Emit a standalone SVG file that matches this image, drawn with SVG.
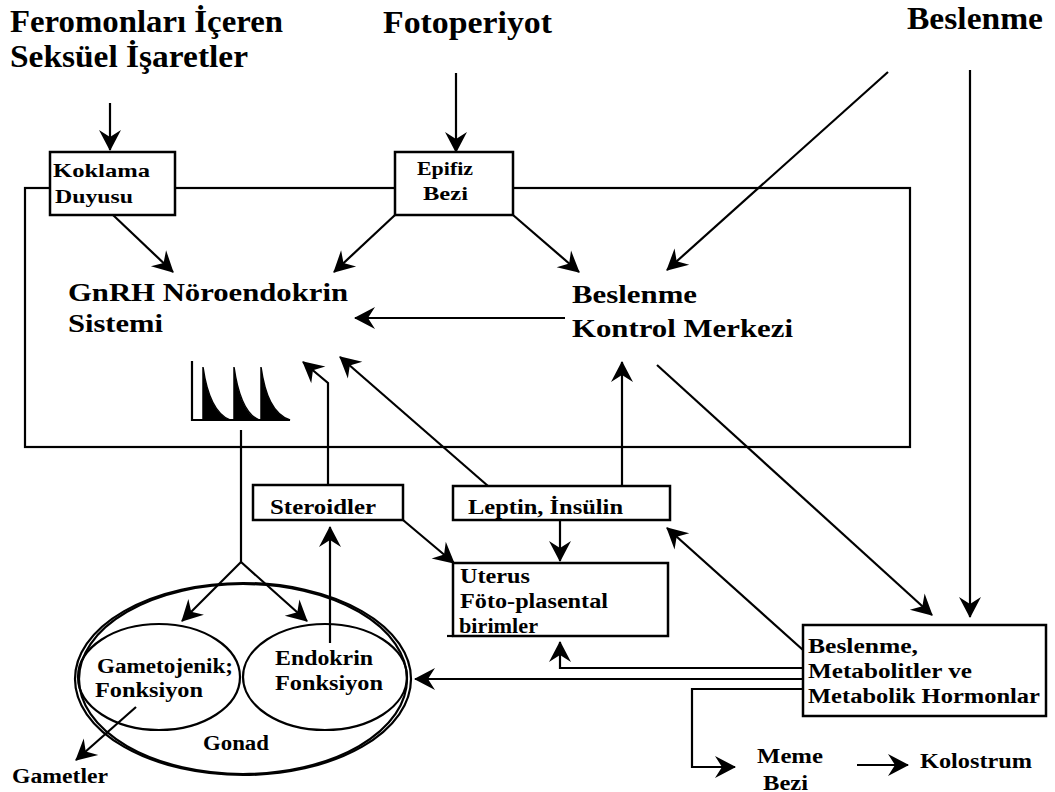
<svg xmlns="http://www.w3.org/2000/svg" width="1055" height="792" viewBox="0 0 1055 792">
<style>
text{font-family:"Liberation Serif","Times New Roman",serif;font-weight:bold;fill:#000}
.t{font-size:32px}
.m{font-size:26px}
.s{font-size:20px}
.k{font-size:19px}
.box{fill:#fff;stroke:#000;stroke-width:2.5}
.ln{fill:none;stroke:#000;stroke-width:2.2}
.ar{fill:none;stroke:#000;stroke-width:2.2;marker-end:url(#ah)}
.el{fill:none;stroke:#000;stroke-width:2.2}
</style>
<defs>
<marker id="ah" viewBox="-22 -13 24 26" refX="0" refY="0" markerWidth="24" markerHeight="26" markerUnits="userSpaceOnUse" orient="auto">
<path d="M1,0 L-20,-11 L-13,0 L-20,11 Z" fill="#000"/>
</marker>
</defs>
<rect width="1055" height="792" fill="#fff"/>

<g id="titles">
<text class="t" x="10" y="32" textLength="273" lengthAdjust="spacingAndGlyphs">Feromonları İçeren</text>
<text class="t" x="10" y="67" textLength="238" lengthAdjust="spacingAndGlyphs">Seksüel İşaretler</text>
<text class="t" x="383" y="33" textLength="169" lengthAdjust="spacingAndGlyphs">Fotoperiyot</text>
<text class="t" x="907" y="29" textLength="136" lengthAdjust="spacingAndGlyphs">Beslenme</text>
</g>

<g id="frame">
<rect x="25" y="188" width="885" height="259" class="ln" stroke-width="2.5"/>
</g>

<g id="connectors">
<path class="ar" d="M110,103 L110,150"/>
<path class="ar" d="M456,73 L456,152"/>
<path class="ar" d="M888,72 L667,270"/>
<path class="ar" d="M970,70 L970,617"/>
<path class="ar" d="M113,215 L173,272"/>
<path class="ar" d="M395,215 L334,272"/>
<path class="ar" d="M513,215 L579,272"/>
<path class="ar" d="M565,318 L355,318"/>
<path class="ar" d="M657,365 L932,615"/>
<path class="ln" d="M241,430 L241,562"/>
<path class="ar" d="M241,562 L182,621"/>
<path class="ar" d="M241,562 L307,621"/>
<path class="ar" d="M330,643 L330,527"/>
<path class="ar" d="M328,485 L328,383 L303,362"/>
<path class="ar" d="M488,486 L340,357"/>
<path class="ar" d="M622,486 L622,362"/>
<path class="ar" d="M560,520 L560,561"/>
<path class="ar" d="M403,520 L454,563"/>
<path class="ar" d="M803,650 L667,528"/>
<path class="ar" d="M804,668 L560,668 L560,642"/>
<path class="ar" d="M804,679 L415,679"/>
<path class="ar" d="M804,689 L692,689 L692,767 L735,767"/>
<path class="ar" d="M857,765 L908,765"/>
<path class="ar" d="M136,707 L76,760"/>
</g>

<g id="koklama">
<rect class="box" x="50" y="152" width="125" height="63"/>
<text class="k" x="53" y="177" textLength="97" lengthAdjust="spacingAndGlyphs">Koklama</text>
<text class="k" x="55" y="203" textLength="78" lengthAdjust="spacingAndGlyphs">Duyusu</text>
</g>

<g id="epifiz">
<rect class="box" x="395" y="152" width="118" height="63"/>
<text class="k" x="417" y="175" textLength="56" lengthAdjust="spacingAndGlyphs">Epifiz</text>
<text class="k" x="423" y="200" textLength="45" lengthAdjust="spacingAndGlyphs">Bezi</text>
</g>

<g id="gnrh">
<text class="m" x="68" y="301" textLength="280" lengthAdjust="spacingAndGlyphs">GnRH Nöroendokrin</text>
<text class="m" x="68" y="332" textLength="95" lengthAdjust="spacingAndGlyphs">Sistemi</text>
</g>

<g id="pulse">
<path class="ln" d="M192,361 L192,420 L290,420"/>
<path d="M203,420 L203,367 C207,395 215,414 230,420 Z" fill="#000" stroke="#000" stroke-width="1.5"/>
<path d="M234,420 L234,367 C238,395 245,414 259,420 Z" fill="#000" stroke="#000" stroke-width="1.5"/>
<path d="M261,420 L261,367 C265,395 273,414 290,420 Z" fill="#000" stroke="#000" stroke-width="1.5"/>
</g>

<g id="bkm">
<text class="m" x="572" y="303" textLength="125" lengthAdjust="spacingAndGlyphs">Beslenme</text>
<text class="m" x="572" y="337" textLength="221" lengthAdjust="spacingAndGlyphs">Kontrol Merkezi</text>
</g>

<g id="steroidler">
<rect class="box" x="253" y="485" width="150" height="35"/>
<text class="s" x="270" y="514" textLength="106" lengthAdjust="spacingAndGlyphs">Steroidler</text>
</g>

<g id="leptin">
<rect class="box" x="453" y="486" width="217" height="34"/>
<text class="s" x="468" y="514" textLength="155" lengthAdjust="spacingAndGlyphs">Leptin, İnsülin</text>
</g>

<g id="uterus">
<rect class="box" x="453" y="563" width="215" height="73" stroke-width="2"/>
<path class="ln" d="M447,636 L453,636"/>
<text class="s" x="460" y="583" textLength="70" lengthAdjust="spacingAndGlyphs">Uterus</text>
<text class="s" x="460" y="608" textLength="148" lengthAdjust="spacingAndGlyphs">Föto-plasental</text>
<text class="s" x="459" y="633" textLength="79" lengthAdjust="spacingAndGlyphs">birimler</text>
</g>

<g id="gonad">
<ellipse class="el" cx="243" cy="679" rx="168" ry="96"/>
<ellipse class="el" cx="243" cy="679" rx="164" ry="95"/>
<ellipse class="el" cx="159" cy="677" rx="81" ry="53"/>
<ellipse class="el" cx="325" cy="677" rx="82" ry="53"/>
<text class="s" x="97" y="673" textLength="136" lengthAdjust="spacingAndGlyphs">Gametojenik;</text>
<text class="s" x="95" y="697" textLength="108" lengthAdjust="spacingAndGlyphs">Fonksiyon</text>
<text class="s" x="275" y="665" textLength="98" lengthAdjust="spacingAndGlyphs">Endokrin</text>
<text class="s" x="275" y="690" textLength="108" lengthAdjust="spacingAndGlyphs">Fonksiyon</text>
<text class="s" x="203" y="750" textLength="66" lengthAdjust="spacingAndGlyphs">Gonad</text>
</g>

<g id="gametler">
<text class="s" x="12" y="783" textLength="96" lengthAdjust="spacingAndGlyphs">Gametler</text>
</g>

<g id="beslenme-box">
<rect class="box" x="803" y="625" width="243" height="91"/>
<text class="s" x="808" y="653" textLength="110" lengthAdjust="spacingAndGlyphs">Beslenme,</text>
<text class="s" x="808" y="678" textLength="164" lengthAdjust="spacingAndGlyphs">Metabolitler ve</text>
<text class="s" x="808" y="703" textLength="232" lengthAdjust="spacingAndGlyphs">Metabolik Hormonlar</text>
</g>

<g id="meme">
<text class="s" x="757" y="763" textLength="66" lengthAdjust="spacingAndGlyphs">Meme</text>
<text class="s" x="763" y="790" textLength="45" lengthAdjust="spacingAndGlyphs">Bezi</text>
</g>

<g id="kolostrum">
<text class="s" x="920" y="768" textLength="112" lengthAdjust="spacingAndGlyphs">Kolostrum</text>
</g>
</svg>
